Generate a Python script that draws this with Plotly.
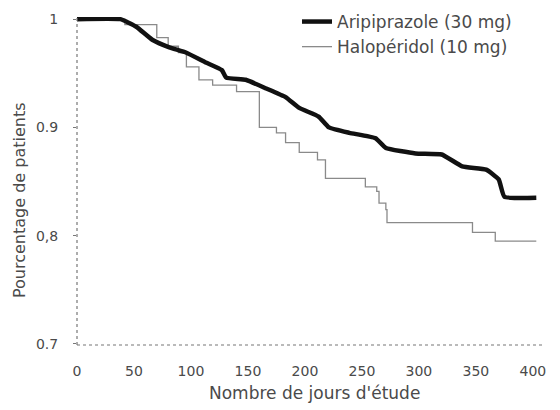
import plotly.graph_objects as go

days_ari = [0, 38, 52, 66, 81, 96, 113, 127, 131, 148, 166, 183, 195, 212, 221, 239, 262, 271, 297, 320, 338, 359, 370, 375, 403]
surv_ari = [1.0, 1.0, 0.993, 0.981, 0.974, 0.969, 0.960, 0.953, 0.946, 0.944, 0.936, 0.928, 0.918, 0.910, 0.900, 0.895, 0.890, 0.881, 0.876, 0.875, 0.864, 0.861, 0.852, 0.836, 0.835]

days_hal = [0, 42, 70, 80, 89, 96, 107, 119, 140, 160, 175, 183, 195, 211, 218, 253, 263, 265, 271, 272, 347, 367, 403]
surv_hal = [1.0, 0.995, 0.983, 0.975, 0.969, 0.956, 0.944, 0.939, 0.933, 0.900, 0.895, 0.886, 0.877, 0.870, 0.853, 0.845, 0.841, 0.830, 0.824, 0.812, 0.803, 0.795, 0.795]

x_ticks = [0, 50, 100, 150, 200, 250, 300, 350, 400]
y_ticks = [0.7, 0.8, 0.9, 1.0]
y_labels = ["0.7", "0,8", "0.9", "1"]

names = ["Aripiprazole (30 mg)", "Halopéridol (10 mg)"]

txt = "#4a4a4a"
fam = "DejaVu Sans, Arial, sans-serif"
tick_font = dict(family=fam, size=14, color=txt)
legend_font = dict(family=fam, size=17, color=txt)
title_font = dict(family=fam, size=17, color=txt)
ytitle_font = dict(family=fam, size=16, color=txt)

fig = go.Figure()
fig.add_trace(go.Scatter(x=days_hal, y=surv_hal, mode="lines", name=names[1],
                         line=dict(color="#8a8a8a", width=1.3, shape="hv")))
fig.add_trace(go.Scatter(x=days_ari, y=surv_ari, mode="lines", name=names[0],
                         line=dict(color="#111111", width=4.5, shape="spline", smoothing=0.4)))

OFF = 8  # page body offset
W, H = 552, 402
L, T = 77 - OFF, 17 - OFF
R = W - (542 - OFF)
B = H - (345 - OFF)
pw = W - L - R
ph = H - T - B


def px_x(p):
    return (p - OFF - L) / pw


def px_y(p):
    return 1 - (p - OFF - T) / ph


fig.update_layout(
    width=W, height=H,
    margin=dict(l=L, r=R, t=T, b=B, autoexpand=False),
    paper_bgcolor="white", plot_bgcolor="white",
    font=tick_font,
    showlegend=True,
    legend=dict(x=px_x(297), y=px_y(4), xanchor="left", yanchor="top",
                traceorder="reversed", bgcolor="rgba(0,0,0,0)",
                font=legend_font, itemwidth=30, tracegroupgap=0),
    xaxis=dict(range=[0, 408], tickvals=x_ticks, ticktext=[str(v) for v in x_ticks],
               showgrid=False, zeroline=False, showline=False, ticks="",
               ticklabelstandoff=16, tickfont=tick_font),
    yaxis=dict(range=[0.699, 1.002], tickvals=y_ticks, ticktext=y_labels,
               showgrid=False, zeroline=False, showline=False,
               ticks="outside", ticklen=3, tickcolor="#777777",
               ticklabelstandoff=12, tickfont=tick_font),
    shapes=[
        dict(type="line", xref="paper", yref="paper", x0=0, x1=0, y0=0, y1=1.0,
             line=dict(color="#777777", width=1.2, dash="dot")),
        dict(type="line", xref="paper", yref="paper", x0=0, x1=1, y0=0, y1=0,
             line=dict(color="#777777", width=1.2, dash="dot")),
    ],
    annotations=[
        dict(text="Nombre de jours d'étude", xref="paper", yref="paper",
             x=px_x(314), y=px_y(393), showarrow=False,
             xanchor="center", yanchor="middle", font=title_font),
        dict(text="Pourcentage de patients", xref="paper", yref="paper",
             x=px_x(19), y=px_y(200), showarrow=False, textangle=-90,
             xanchor="center", yanchor="middle", font=ytitle_font),
    ],
)

fig.write_html("out.html")
